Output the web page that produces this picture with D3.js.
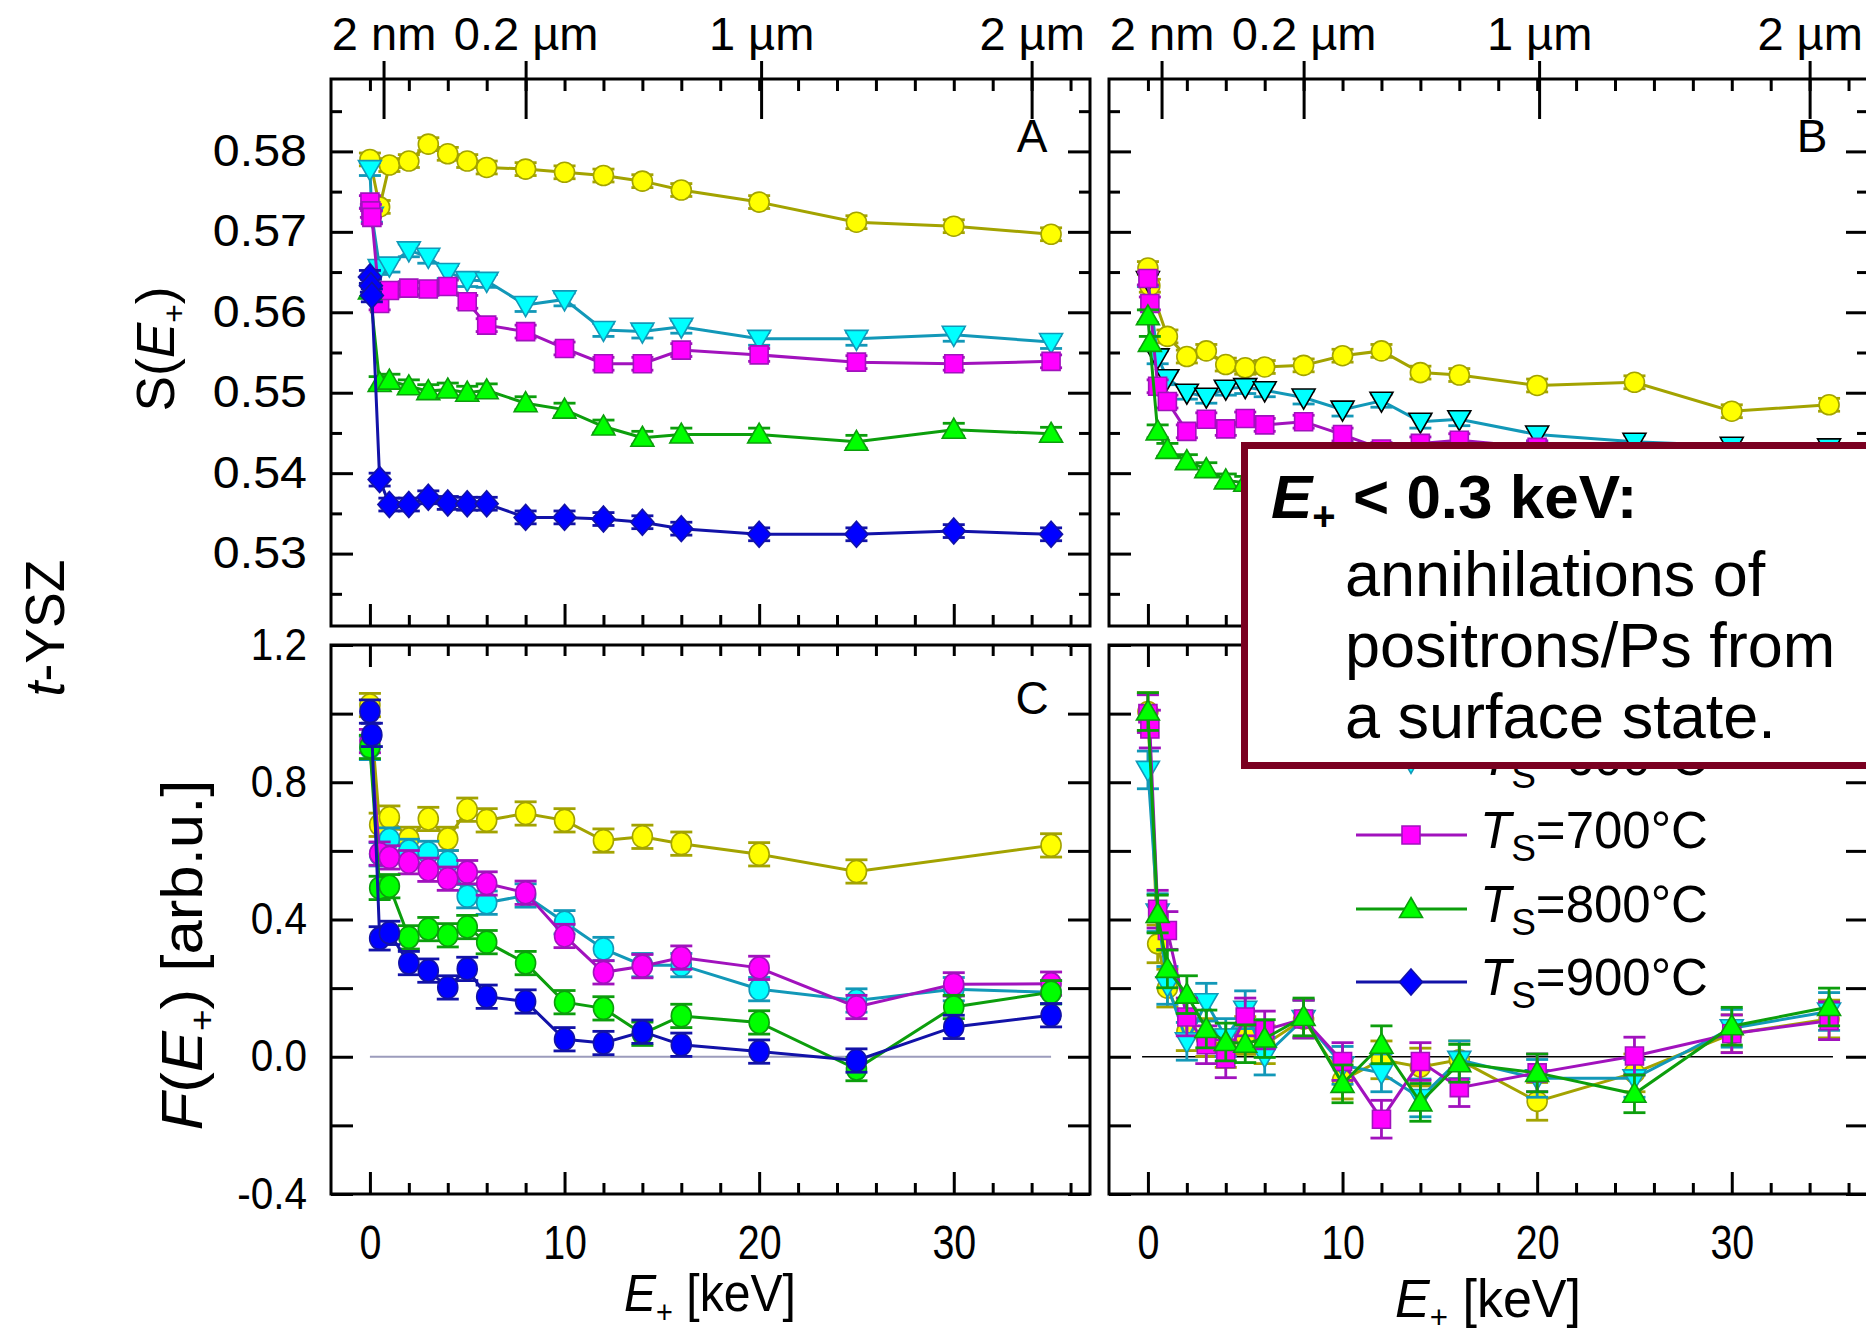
<!DOCTYPE html>
<html>
<head>
<meta charset="utf-8">
<script src="https://cdn.jsdelivr.net/npm/d3@7"></script>
<style>
  body { margin: 0; background: #fff; }
  svg { display: block; font-family: "Liberation Sans", Arial, sans-serif; }
</style>
</head>
<body>
<svg id="chart" width="1866" height="1336"></svg>
<script>
// energies (keV) of the measured points
const E_KEV   = [0, 0.5, 1, 2, 3, 4, 5, 6, 8, 10, 12, 14, 16, 20, 25, 30, 35];
const E_SURF2 = [0, 0.1, 0.5, 1, 2, 3, 4, 5, 6, 8, 10, 12, 14, 16, 20, 25, 30, 35];
const E_SURF3 = [0, 0.05, 0.1, 0.5, 1, 2, 3, 4, 5, 6, 8, 10, 12, 14, 16, 20, 25, 30, 35];
const E_NO05  = [0, 0.1, 1, 2, 3, 4, 5, 6, 8, 10, 12, 14, 16, 20, 25, 30, 35];
const E_NO30  = [0, 0.5, 1, 2, 3, 4, 5, 6, 8, 10, 12, 14, 16, 20, 25, 35];

const temps = ["500", "600", "700", "800", "900"];
const lineColors = ["#a3a300", "#1298b8", "#a112bd", "#0c9e0c", "#1212a8"];
const fillColors = ["#ffff00", "#00ffff", "#ff00ff", "#00ff00", "#0000ff"];
const shapes = ["circle", "tridown", "square", "triup", "diamond"];

// panel A: S(E+)
const sA500 = [0.5790, 0.5731, 0.5783, 0.5788, 0.5809, 0.5797, 0.5788, 0.5780, 0.5778, 0.5774, 0.5770, 0.5763, 0.5752, 0.5737, 0.5712, 0.5707, 0.5697];
const sA600 = [0.5778, 0.5720, 0.5655, 0.5658, 0.5677, 0.5669, 0.5650, 0.5640, 0.5639, 0.5609, 0.5616, 0.5578, 0.5576, 0.5582, 0.5567, 0.5567, 0.5572, 0.5563];
const sA700 = [0.5737, 0.5726, 0.5718, 0.5611, 0.5627, 0.5630, 0.5629, 0.5632, 0.5613, 0.5584, 0.5576, 0.5555, 0.5536, 0.5536, 0.5553, 0.5547, 0.5538, 0.5536, 0.5539];
const sA800 = [0.5627, 0.5512, 0.5515, 0.5508, 0.5502, 0.5504, 0.5500, 0.5503, 0.5487, 0.5479, 0.5458, 0.5444, 0.5448, 0.5448, 0.5439, 0.5454, 0.5449];
const sA900 = [0.5644, 0.5633, 0.5621, 0.5392, 0.5361, 0.5361, 0.5370, 0.5363, 0.5362, 0.5362, 0.5345, 0.5345, 0.5343, 0.5339, 0.5331, 0.5324, 0.5324, 0.5328, 0.5324];

// panel B: S(E+)
const sB500 = [0.5655, 0.5633, 0.5570, 0.5545, 0.5552, 0.5535, 0.5531, 0.5532, 0.5534, 0.5546, 0.5552, 0.5525, 0.5522, 0.5509, 0.5513, 0.5477, 0.5485];
const sB600 = [0.5640, 0.5544, 0.5518, 0.5500, 0.5495, 0.5505, 0.5507, 0.5503, 0.5494, 0.5479, 0.5490, 0.5464, 0.5467, 0.5448, 0.5439, 0.5434, 0.5432];
const sB700 = [0.5642, 0.5611, 0.5508, 0.5489, 0.5452, 0.5467, 0.5455, 0.5468, 0.5460, 0.5464, 0.5448, 0.5430, 0.5437, 0.5441, 0.5432, 0.5425, 0.5420, 0.5422];
const sB800 = [0.5595, 0.5562, 0.5452, 0.5429, 0.5415, 0.5405, 0.5391, 0.5388, 0.5385, 0.5380, 0.5376, 0.5372, 0.5369, 0.5366, 0.5362, 0.5358, 0.5355, 0.5353];

// panel C: F(E+)
const fC500 = [1.025, 0.676, 0.697, 0.635, 0.693, 0.635, 0.720, 0.689, 0.709, 0.689, 0.630, 0.641, 0.621, 0.590, 0.540, 0.616];
const fC600 = [0.900, 0.590, 0.633, 0.600, 0.594, 0.567, 0.468, 0.449, 0.470, 0.392, 0.314, 0.267, 0.267, 0.197, 0.164, 0.197, 0.188];
const fC700 = [0.920, 0.592, 0.581, 0.567, 0.545, 0.519, 0.538, 0.505, 0.478, 0.352, 0.246, 0.264, 0.289, 0.259, 0.145, 0.211, 0.213];
const fC800 = [0.903, 0.492, 0.497, 0.348, 0.372, 0.354, 0.378, 0.334, 0.273, 0.159, 0.141, 0.067, 0.119, 0.100, -0.036, 0.145, 0.188];
const fC900 = [1.006, 0.938, 0.345, 0.361, 0.273, 0.251, 0.202, 0.256, 0.175, 0.161, 0.051, 0.040, 0.073, 0.035, 0.015, -0.011, 0.087, 0.121];

// panel D: F(E+)
const fD500 = [1.006, 0.329, 0.200, 0.073, 0.056, 0.024, 0.062, 0.035, 0.110, -0.068, -0.009, -0.030, -0.009, -0.130, -0.047, 0.067, 0.110];
const fD600 = [0.836, 0.420, 0.208, 0.045, 0.159, 0.056, 0.137, 0.002, 0.110, -0.025, -0.047, -0.120, -0.009, -0.063, -0.063, 0.083, 0.132];
const fD700 = [1.000, 0.955, 0.430, 0.368, 0.116, 0.035, -0.006, 0.116, 0.078, 0.110, -0.014, -0.182, -0.014, -0.090, -0.047, 0.002, 0.067, 0.105];
const fD800 = [1.006, 0.416, 0.256, 0.181, 0.081, 0.043, 0.038, 0.053, 0.116, -0.079, 0.035, -0.133, -0.019, -0.047, -0.108, 0.089, 0.145];

// axis ticks
const sTicks = [0.53, 0.54, 0.55, 0.56, 0.57, 0.58];
const sMinor = [0.525, 0.535, 0.545, 0.555, 0.565, 0.575, 0.585];
const fTicks = [-0.4, -0.2, 0, 0.2, 0.4, 0.6, 0.8, 1.0, 1.2];
const fLabels = [-0.4, 0, 0.4, 0.8, 1.2];
const eMajor = [0, 10, 20, 30];
const eMinor = [2, 4, 6, 8, 12, 14, 16, 18, 22, 24, 26, 28, 32, 34, 36];
const eTop = [0, 2, 4, 6, 8, 10, 12, 14, 16, 18, 20, 22, 24, 26, 28, 30, 32, 34, 36];
const depthE = [0.7, 8.0, 20.1, 34.0];
const depthLabels = ["2 nm", "0.2 \u00b5m", "1 \u00b5m", "2 \u00b5m"];

const ERR_S = 0.0008, ERR_C = 0.034, ERR_D = 0.055;

const svg = d3.select("#chart");
const xA = d3.scaleLinear().domain([-2, 37]).range([331, 1090]);
const xB = d3.scaleLinear().domain([-2, 37]).range([1109, 1868]);
const yS = d3.scaleLinear().domain([0.521, 0.589]).range([626, 79]);
const yF = d3.scaleLinear().domain([-0.4, 1.2]).range([1194, 645]);

// stretch or squeeze a plain text horizontally
function squeeze(sel, k) {
  sel.each(function () {
    const w = this.getComputedTextLength();
    if (!w) return;
    this.setAttribute("textLength", w * k);
    this.setAttribute("lengthAdjust", "spacingAndGlyphs");
  });
}

function shapePath(kind, big) {
  if (kind === "circle") return big ? "M-10,0a10,11 0 1,0 20,0a10,11 0 1,0 -20,0Z"
                                    : "M-10,0a10,10 0 1,0 20,0a10,10 0 1,0 -20,0Z";
  if (kind === "tridown") return "M-11.5,-8.5L11.5,-8.5L0,11.5Z";
  if (kind === "triup") return "M0,-11.5L11.5,8.5L-11.5,8.5Z";
  if (kind === "square") return "M-9,-9h18v18h-18Z";
  return "M0,-13L11.5,0L0,13L-11.5,0Z";
}

function styleAxis(g) {
  g.attr("font-family", null).attr("font-size", null);
  g.select(".domain").remove();
  g.selectAll("line").attr("stroke", "#000").attr("stroke-width", 3);
  g.selectAll("text").attr("fill", "#000");
}

function drawPanel(p) {
  const x = p.x, y = p.y;
  const [x0, x1] = x.range();
  const [yb, yt] = y.range();
  const g = svg.append("g");

  // ticks
  const majorY = p.kind === "S" ? sTicks : fTicks;
  const left = g.append("g").attr("transform", `translate(${x0},0)`)
    .call(d3.axisLeft(y).tickValues(majorY).tickSize(-22).tickPadding(24)
      .tickFormat(p.showY ? (p.kind === "S" ? d3.format(".2f") : (d => fLabels.includes(d) ? d3.format(".1f")(d).replace("\u2212", "-") : "")) : ""))
    .call(styleAxis);
  left.selectAll("text").attr("font-size", 44).call(squeeze, p.kind === "S" ? 1.1 : 0.92);
  g.append("g").attr("transform", `translate(${x1},0)`)
    .call(d3.axisRight(y).tickValues(majorY).tickSize(-22).tickFormat(""))
    .call(styleAxis);
  if (p.kind === "S") {
    g.append("g").attr("transform", `translate(${x0},0)`)
      .call(d3.axisLeft(y).tickValues(sMinor).tickSize(-11).tickFormat("")).call(styleAxis);
    g.append("g").attr("transform", `translate(${x1},0)`)
      .call(d3.axisRight(y).tickValues(sMinor).tickSize(-11).tickFormat("")).call(styleAxis);
  }
  const bottom = g.append("g").attr("transform", `translate(0,${yb})`)
    .call(d3.axisBottom(x).tickValues(eMajor).tickSize(-22).tickPadding(31)
      .tickFormat(p.kind === "F" ? d3.format("d") : ""))
    .call(styleAxis);
  bottom.selectAll("text").attr("font-size", 48).call(squeeze, 0.82);
  g.append("g").attr("transform", `translate(0,${yb})`)
    .call(d3.axisBottom(x).tickValues(eMinor).tickSize(-11).tickFormat("")).call(styleAxis);
  if (p.kind === "S") {
    g.append("g").attr("transform", `translate(0,${yt})`)
      .call(d3.axisTop(x).tickValues(eTop).tickSize(-12).tickFormat("")).call(styleAxis);
    const dAx = g.append("g").attr("transform", `translate(0,${yt})`)
      .call(d3.axisTop(x).tickValues(depthE).tickSize(18).tickPadding(11)
        .tickFormat((d, i) => depthLabels[i]))
      .call(styleAxis);
    dAx.selectAll("text").attr("font-size", 47);
    g.append("g").attr("transform", `translate(0,${yt})`)
      .call(d3.axisTop(x).tickValues(depthE).tickSize(-40).tickFormat("")).call(styleAxis);
  } else {
    g.append("g").attr("transform", `translate(0,${yt})`)
      .call(d3.axisTop(x).tickValues(eTop.slice(1)).tickSize(-11).tickFormat("")).call(styleAxis);
    g.append("g").attr("transform", `translate(0,${yt})`)
      .call(d3.axisTop(x).tickValues([0]).tickSize(-22).tickFormat("")).call(styleAxis);
  }

  // frame
  g.append("rect").attr("x", x0).attr("y", yt).attr("width", x1 - x0).attr("height", yb - yt)
    .attr("fill", "none").attr("stroke", "#000").attr("stroke-width", 3);

  // zero line
  if (p.zero) {
    g.append("line").attr("x1", x(p.zero[0])).attr("x2", x(p.zero[1]))
      .attr("y1", y(0)).attr("y2", y(0))
      .attr("stroke", p.zero[2]).attr("stroke-width", p.zero[3]);
  }

  // series: line, error bars, markers
  const line = d3.line().x(d => x(d[0])).y(d => y(d[1]));
  p.series.forEach(([es, vs, k]) => {
    const pts = es.map((e, i) => [e, vs[i]]);
    const sg = g.append("g");
    sg.append("path").attr("d", line(pts)).attr("fill", "none")
      .attr("stroke", lineColors[k]).attr("stroke-width", 3);
    const eb = sg.append("g").attr("stroke", lineColors[k]).attr("stroke-width", 2.8);
    pts.forEach(d => {
      const px = x(d[0]), ylo = y(d[1] - p.err), yhi = y(d[1] + p.err);
      eb.append("line").attr("x1", px).attr("x2", px).attr("y1", ylo).attr("y2", yhi);
      eb.append("line").attr("x1", px - 11).attr("x2", px + 11).attr("y1", ylo).attr("y2", ylo);
      eb.append("line").attr("x1", px - 11).attr("x2", px + 11).attr("y1", yhi).attr("y2", yhi);
    });
    const shp = p.circles ? "circle" : shapes[k];
    sg.selectAll("path.mk").data(pts).join("path").attr("class", "mk")
      .attr("transform", d => `translate(${x(d[0])},${y(d[1])})`)
      .attr("d", shapePath(shp, p.circles))
      .attr("fill", fillColors[k])
      .attr("stroke", (p.blackEdge && k === 1) ? "#000" : lineColors[k])
      .attr("stroke-width", 1.6);
  });

  // panel letter
  g.append("text").attr("x", p.letter[1]).attr("y", p.letter[2])
    .attr("text-anchor", "middle").attr("font-size", 46).text(p.letter[0]);
}

drawPanel({ x: xA, y: yS, kind: "S", showY: true, err: ERR_S, letter: ["A", 1032, 152],
  series: [[E_KEV, sA500, 0], [E_SURF2, sA600, 1], [E_SURF3, sA700, 2], [E_KEV, sA800, 3], [E_SURF3, sA900, 4]] });
drawPanel({ x: xB, y: yS, kind: "S", showY: false, err: ERR_S, letter: ["B", 1812, 152], blackEdge: true,
  series: [[E_NO05, sB500, 0], [E_KEV, sB600, 1], [E_SURF2, sB700, 2], [E_SURF2, sB800, 3]] });
drawPanel({ x: xA, y: yF, kind: "F", showY: true, err: ERR_C, letter: ["C", 1032, 714], circles: true,
  zero: [0, 35, "#9c9cbc", 2],
  series: [[E_NO30, fC500, 0], [E_KEV, fC600, 1], [E_KEV, fC700, 2], [E_KEV, fC800, 3], [E_SURF2, fC900, 4]] });
drawPanel({ x: xB, y: yF, kind: "F", showY: false, err: ERR_D, letter: ["", 0, 0],
  zero: [-0.3, 35.2, "#000", 1.5],
  series: [[E_KEV, fD500, 0], [E_KEV, fD600, 1], [E_SURF2, fD700, 2], [E_KEV, fD800, 3]] });

// axis titles (with subscripts); optional total length in px
function subTitle(x, y, rot, parts, size, len) {
  const holder = svg.append("g").attr("transform", `translate(${x},${y}) rotate(${rot})`);
  const t = holder.append("text").attr("font-size", size).attr("text-anchor", "middle").attr("dy", "0.35em");
  parts.forEach(([txt, style]) => {
    const s = t.append("tspan").text(txt);
    if (style === "i") s.attr("font-style", "italic");
    if (style === "sub") s.attr("font-size", size * 0.6).attr("dy", size * 0.22);
    if (style === "up") s.attr("dy", -size * 0.22);
  });
  if (len) {
    const w = t.node().getComputedTextLength();
    t.attr("transform", `scale(${len / w},1)`);
  }
  return t;
}
subTitle(155, 349, -90, [["S(", ""], ["E", "i"], ["+", "sub"], [")", "up"]], 53, 125);
subTitle(182, 955, -90, [["F", "i"], ["(", ""], ["E", "i"], ["+", "sub"], [") [arb.u.]", "up"]], 57, 351);
subTitle(45, 628, -90, [["t", "i"], ["-YSZ", ""]], 55, 137);
subTitle(710, 1293, 0, [["E", "i"], ["+", "sub"], [" [keV]", "up"]], 52, 172);
subTitle(1488, 1298, 0, [["E", "i"], ["+", "sub"], [" [keV]", "up"]], 53, 186);

// legend (upper entries lie under the annotation box, as in the original)
const legendY = [688, 762, 835, 909, 982];
const lg = svg.append("g");
temps.forEach((t, k) => {
  const yy = legendY[k];
  lg.append("line").attr("x1", 1356).attr("x2", 1467).attr("y1", yy).attr("y2", yy)
    .attr("stroke", lineColors[k]).attr("stroke-width", 3);
  lg.append("path").attr("transform", `translate(1411,${yy})`).attr("d", shapePath(shapes[k]))
    .attr("fill", fillColors[k]).attr("stroke", lineColors[k]).attr("stroke-width", 1.6);
  if (k === 0) return; // fully covered by the box
  const tx = lg.append("text").attr("x", 1480).attr("y", yy + 13).attr("font-size", 51);
  tx.append("tspan").attr("font-style", "italic").text("T");
  tx.append("tspan").attr("font-size", 37).attr("dy", 13).text("S");
  tx.append("tspan").attr("dy", -13).text(`=${t}\u00b0C`);
});

// annotation box
const box = svg.append("g");
box.append("rect").attr("x", 1244.5).attr("y", 445.5).attr("width", 700).attr("height", 320)
  .attr("fill", "#fff").attr("stroke", "#7a0021").attr("stroke-width", 7);
const t1 = box.append("text").attr("x", 1271).attr("y", 518).attr("font-size", 62).attr("font-weight", "bold");
t1.append("tspan").attr("font-style", "italic").text("E");
t1.append("tspan").attr("font-size", 40).attr("dy", 12).text("+");
t1.append("tspan").attr("dy", -12).text(" < 0.3 keV:");
const boxLines = ["annihilations of", "positrons/Ps from", "a surface state."];
boxLines.forEach((s, i) => {
  box.append("text").attr("x", 1345).attr("y", 596 + i * 71).attr("font-size", 63).text(s);
});
</script>
</body>
</html>
